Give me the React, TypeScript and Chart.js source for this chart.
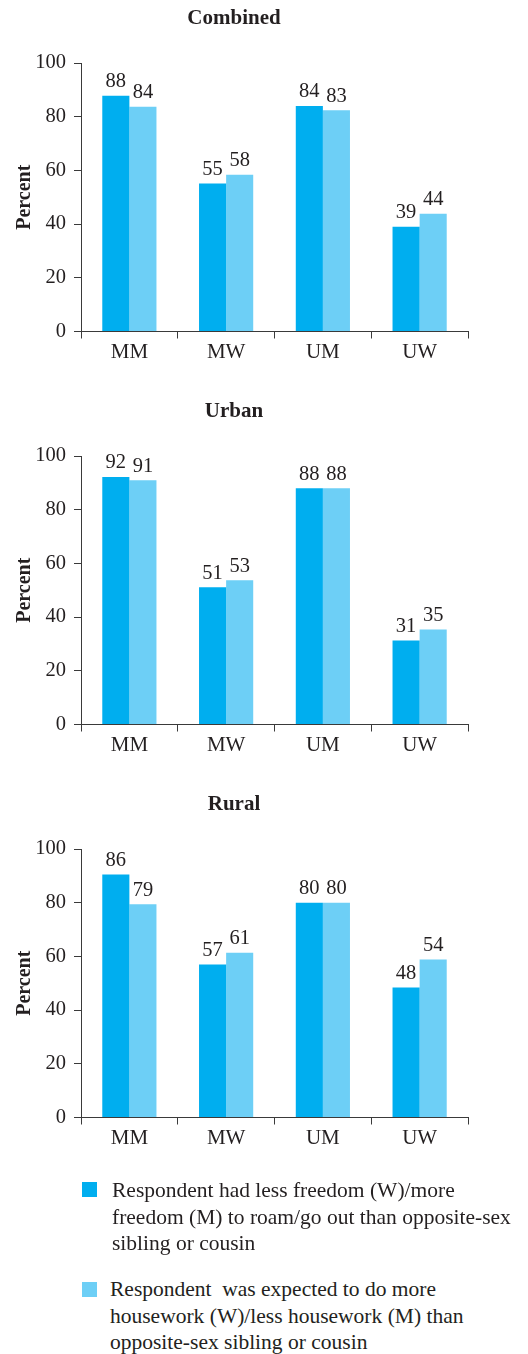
import React, { useEffect, useRef } from 'react';
import { Chart, registerables } from 'chart.js';

Chart.register(...registerables);

// ---------- data ----------
const categories = ['MM', 'MW', 'UM', 'UW'];
const seriesNames = [
  'Respondent had less freedom (W)/more freedom (M) to roam/go out than opposite-sex sibling or cousin',
  'Respondent  was expected to do more housework (W)/less housework (M) than opposite-sex sibling or cousin',
];
const yMin = 0;
const yMax = 100;
const yStep = 20;

const combinedTitle = 'Combined';
const combinedFreedom = [87.8, 55.1, 84, 39];
const combinedHousework = [83.7, 58.4, 82.4, 43.9];
const combinedFreedomLabels = ['88', '55', '84', '39'];
const combinedHouseworkLabels = ['84', '58', '83', '44'];

const urbanTitle = 'Urban';
const urbanFreedom = [92.2, 51.1, 88, 31.3];
const urbanHousework = [91, 53.7, 88, 35.4];
const urbanFreedomLabels = ['92', '51', '88', '31'];
const urbanHouseworkLabels = ['91', '53', '88', '35'];

const ruralTitle = 'Rural';
const ruralFreedom = [90.5, 57, 80, 48.4];
const ruralHousework = [79.4, 61.4, 80, 58.8];
const ruralFreedomLabels = ['86', '57', '80', '48'];
const ruralHouseworkLabels = ['79', '61', '80', '54'];

// ---------- style ----------
const FONT = "'Liberation Serif', 'Times New Roman', serif";
const TEXT = '#231f20';
const AXIS = '#3a3a3a';
const DARK = '#00AEEF';
const LIGHT = '#6DCFF6';
const CANVAS_W = 543;
const CANVAS_H = 393;

const barLabelPlugin = {
  id: 'barLabels',
  afterDatasetsDraw(chart: any, _args: any, opts: any) {
    const ctx = chart.ctx;
    ctx.save();
    ctx.font = `20.5px ${FONT}`;
    ctx.fillStyle = TEXT;
    ctx.textAlign = 'center';
    ctx.textBaseline = 'alphabetic';
    chart.data.datasets.forEach((_ds: any, di: number) => {
      const meta = chart.getDatasetMeta(di);
      const labels = (opts.labels || [])[di] || [];
      meta.data.forEach((bar: any, i: number) => {
        ctx.fillText(labels[i], bar.x, bar.y - 8.5);
      });
    });
    ctx.restore();
  },
};

type PanelProps = {
  title: string;
  freedom: number[];
  housework: number[];
  freedomLabels: string[];
  houseworkLabels: string[];
  top: number;
};

function Panel({ title, freedom, housework, freedomLabels, houseworkLabels, top }: PanelProps) {
  const ref = useRef<HTMLCanvasElement | null>(null);
  useEffect(() => {
    if (!ref.current) return;
    const chart = new Chart(ref.current, {
      type: 'bar',
      data: {
        labels: categories,
        datasets: [
          {
            label: seriesNames[0],
            data: freedom,
            backgroundColor: DARK,
            borderWidth: 0,
            categoryPercentage: 0.56,
            barPercentage: 1.0,
          },
          {
            label: seriesNames[1],
            data: housework,
            backgroundColor: LIGHT,
            borderWidth: 0,
            categoryPercentage: 0.56,
            barPercentage: 1.0,
          },
        ],
      },
      options: {
        responsive: false,
        animation: false,
        devicePixelRatio: 1,
        layout: { padding: { left: 0, right: CANVAS_W - 468, top: 0, bottom: 0 } },
        plugins: {
          legend: { display: false },
          tooltip: { enabled: false },
          title: {
            display: true,
            text: title,
            color: TEXT,
            font: { family: FONT, size: 21, weight: 'bold', lineHeight: 1.2 },
            padding: { top: 6, bottom: 31.8 },
          },
          barLabels: { labels: [freedomLabels, houseworkLabels] },
        } as any,
        scales: {
          x: {
            grid: {
              display: true,
              drawOnChartArea: false,
              drawTicks: true,
              tickLength: 7,
              color: AXIS,
              lineWidth: 1,
              offset: true,
            },
            border: { display: true, color: AXIS, width: 1 },
            ticks: {
              color: TEXT,
              font: { family: FONT, size: 21 },
              padding: 1,
              maxRotation: 0,
            },
            afterFit: (s: any) => {
              s.height = 61.5;
            },
          },
          y: {
            min: yMin,
            max: yMax,
            grid: {
              display: true,
              drawOnChartArea: false,
              drawTicks: true,
              tickLength: 7,
              color: AXIS,
              lineWidth: 1,
            },
            border: { display: true, color: AXIS, width: 1 },
            ticks: {
              stepSize: yStep,
              color: TEXT,
              font: { family: FONT, size: 20.5 },
              padding: 8,
            },
            title: {
              display: true,
              text: 'Percent',
              color: TEXT,
              font: { family: FONT, size: 20, weight: 'bold', lineHeight: 1.2 },
              padding: { top: 13, bottom: 0 },
            },
            afterFit: (s: any) => {
              s.width = 81;
            },
          },
        },
      } as any,
      plugins: [barLabelPlugin],
    });
    return () => chart.destroy();
  }, []);
  return (
    <div style={{ position: 'absolute', left: 0, top, width: CANVAS_W, height: CANVAS_H }}>
      <canvas ref={ref} width={CANVAS_W} height={CANVAS_H} style={{ display: 'block' }} />
    </div>
  );
}

const legendText = { fontFamily: FONT, fontSize: 21.5, lineHeight: '26.5px', color: TEXT, whiteSpace: 'pre' as const };

export default function App() {
  return (
    <div
      style={{
        position: 'absolute',
        left: 0,
        top: 0,
        width: 528,
        height: 1354,
        overflow: 'hidden',
        background: '#fff',
      }}
    >
      <Panel
        title={combinedTitle}
        freedom={combinedFreedom}
        housework={combinedHousework}
        freedomLabels={combinedFreedomLabels}
        houseworkLabels={combinedHouseworkLabels}
        top={0}
      />
      <Panel
        title={urbanTitle}
        freedom={urbanFreedom}
        housework={urbanHousework}
        freedomLabels={urbanFreedomLabels}
        houseworkLabels={urbanHouseworkLabels}
        top={393}
      />
      <Panel
        title={ruralTitle}
        freedom={ruralFreedom}
        housework={ruralHousework}
        freedomLabels={ruralFreedomLabels}
        houseworkLabels={ruralHouseworkLabels}
        top={786}
      />
      <div style={{ position: 'absolute', left: 82, top: 1182, width: 15, height: 15, background: DARK }} />
      <div style={{ position: 'absolute', left: 112, top: 1177, ...legendText }}>
        {'Respondent had less freedom (W)/more\nfreedom (M) to roam/go out than opposite-sex\nsibling or cousin'}
      </div>
      <div style={{ position: 'absolute', left: 82, top: 1282, width: 15, height: 15, background: LIGHT }} />
      <div style={{ position: 'absolute', left: 110, top: 1276, ...legendText }}>
        {'Respondent  was expected to do more\nhousework (W)/less housework (M) than\nopposite-sex sibling or cousin'}
      </div>
    </div>
  );
}
